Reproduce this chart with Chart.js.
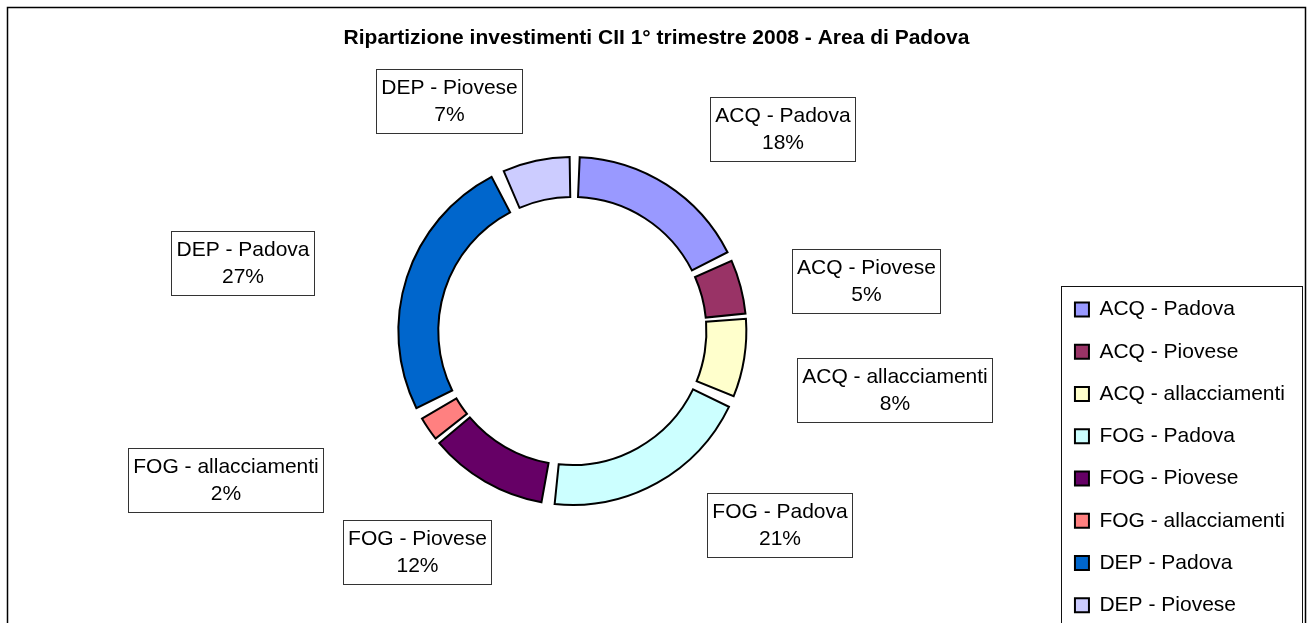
<!DOCTYPE html>
<html><head><meta charset="utf-8">
<script src="https://cdn.jsdelivr.net/npm/chart.js@4/dist/chart.umd.min.js"></script>
<style>
html,body{margin:0;padding:0;background:#fff;overflow:hidden;}
#wrap{position:relative;width:1308px;height:660px;}
</style></head><body>
<div id="wrap"><canvas id="c"></canvas></div>
<script>
const chartTitle = 'Ripartizione investimenti CII 1° trimestre 2008 - Area di Padova';
const categories = ['ACQ - Padova', 'ACQ - Piovese', 'ACQ - allacciamenti', 'FOG - Padova',
                    'FOG - Piovese', 'FOG - allacciamenti', 'DEP - Padova', 'DEP - Piovese'];
const values = [18.2, 5.4, 7.8, 21.0, 11.9, 2.4, 26.6, 6.7];
const sliceColors = ['#9999FF', '#993366', '#FFFFCC', '#CCFFFF', '#660066', '#FF8080', '#0066CC', '#CCCCFF'];

const FONT = "'Liberation Sans', Arial, Helvetica, sans-serif";
const LEFT_SPACER = 73;

// empty layout box on the left, so the doughnut sits left of the page centre like the original
const leftSpacerPlugin = {
  id: 'leftSpacer',
  beforeInit(chart) {
    const box = {
      position: 'left', weight: 0, fullSize: false,
      options: { stack: undefined, stackWeight: 1 },
      width: 0, height: 0, left: 0, top: 0, right: 0, bottom: 0,
      isHorizontal() { return false; },
      update(maxWidth, maxHeight) { this.width = LEFT_SPACER; this.height = maxHeight; },
      draw() {}
    };
    Chart.layouts.addBox(chart, box);
  }
};

const framePlugin = {
  id: 'frame',
  beforeDraw(chart) {
    const ctx = chart.ctx;
    ctx.save();
    ctx.fillStyle = '#fff';
    ctx.fillRect(0, 0, chart.width, chart.height);
    ctx.strokeStyle = '#000';
    ctx.lineWidth = 1.5;
    ctx.strokeRect(7.5, 7.5, 1298, chart.height);
    const lg = chart.legend;
    if (lg && lg.legendHitBoxes && lg.legendHitBoxes.length) {
      const hb = lg.legendHitBoxes[0];
      const x0 = Math.round(hb.left - 14) + 0.5;
      const y0 = Math.round(hb.top - 13) + 0.5;
      const x1 = chart.width - 5.5;
      ctx.lineWidth = 1;
      ctx.strokeStyle = '#111';
      ctx.strokeRect(x0, y0, x1 - x0, chart.height);
    }
    ctx.restore();
  }
};

const boxLabelsPlugin = {
  id: 'boxLabels',
  afterDatasetsDraw(chart, args, opts) {
    const meta = chart.getDatasetMeta(0);
    const total = values.reduce((a, b) => a + b, 0);
    const ctx = chart.ctx;
    ctx.save();
    ctx.font = '21px ' + FONT;
    ctx.textAlign = 'center';
    ctx.textBaseline = 'middle';
    meta.data.forEach((arc, i) => {
      const off = opts.offsets[i];
      const cx = arc.x + off[0], cy = arc.y + off[1];
      const l1 = categories[i];
      const l2 = Math.round(values[i] / total * 100) + '%';
      const w = Math.ceil(Math.max(ctx.measureText(l1).width, ctx.measureText(l2).width)) + 9;
      const h = 64;
      const left = Math.round(cx - w / 2) + 0.5, top = Math.round(cy - h / 2) + 0.5;
      ctx.fillStyle = '#fff';
      ctx.fillRect(left, top, w, h);
      ctx.strokeStyle = '#333';
      ctx.lineWidth = 1;
      ctx.strokeRect(left, top, w, h);
      ctx.fillStyle = '#000';
      ctx.fillText(l1, left + w / 2, top + 18.5);
      ctx.fillText(l2, left + w / 2, top + 46);
    });
    ctx.restore();
  }
};

new Chart(document.getElementById('c'), {
  type: 'doughnut',
  data: {
    labels: categories,
    datasets: [{
      data: values,
      backgroundColor: sliceColors,
      borderColor: '#000',
      borderWidth: 2,
      borderJoinStyle: 'miter',
      spacing: 22,
      radius: 163,
      cutout: '75.5%'
    }]
  },
  options: {
    responsive: true,
    maintainAspectRatio: false,
    animation: false,
    events: [],
    layout: { padding: { left: 18, right: 13, top: 0, bottom: 23 } },
    plugins: {
      title: {
        display: true,
        text: chartTitle,
        color: '#000',
        font: { family: FONT, size: 21, weight: 'bold' },
        padding: { top: 25.4, bottom: -25.6 }
      },
      legend: {
        display: true,
        position: 'right',
        align: 'end',
        labels: {
          color: '#000',
          font: { family: FONT, size: 21 },
          boxWidth: 14,
          boxHeight: 14,
          padding: 21.25
        }
      },
      tooltip: { enabled: false },
      boxLabels: {
        offsets: [[210, -202], [294, -50.5], [322, 58.5], [207, 194],
                  [-155, 221], [-347, 148.5], [-329.5, -68.5], [-123, -230]]
      }
    }
  },
  plugins: [leftSpacerPlugin, framePlugin, boxLabelsPlugin]
});
</script>
</body></html>
